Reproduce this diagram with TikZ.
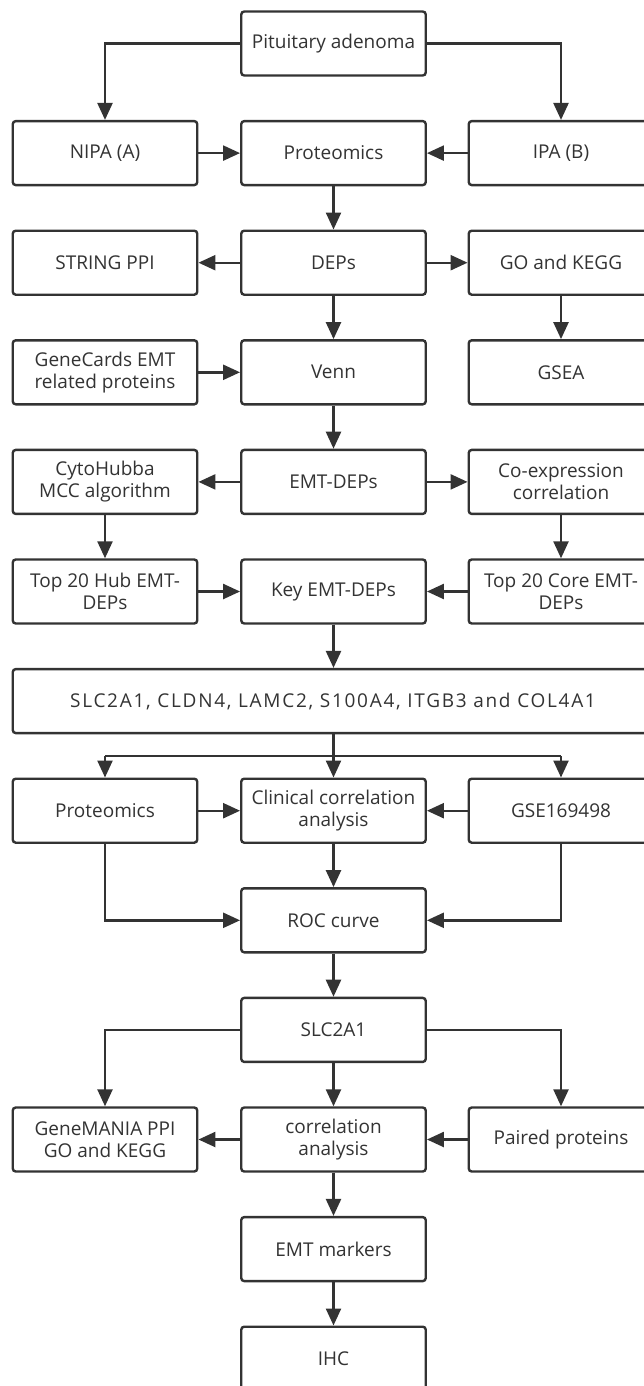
\documentclass[tikz,border=0pt]{standalone}
\usepackage{fontspec}
\setmainfont{Open Sans}
\usetikzlibrary{arrows.meta}
\definecolor{ink}{HTML}{333333}
\tikzset{
  box/.style={draw=ink, line width=2.4pt, rounded corners=3pt, minimum width=184.5pt,
    minimum height=64pt, align=center, text=ink, inner sep=2pt,
    font=\fontsize{19}{22}\selectfont},
  widebox/.style={box, minimum width=640.5pt, font=\fontsize{19}{22}\selectfont\addfontfeature{LetterSpace=9}},
  arr/.style={draw=ink, line width=2.4pt, -{Triangle[length=17pt,width=15pt]}},
  ln/.style={draw=ink, line width=2.4pt},
}
\begin{document}
\begin{tikzpicture}[x=1pt,y=-1pt]
\fill[white] (0,0) rectangle (644,1386);
\useasboundingbox (0,0) rectangle (644,1386);
% rows
\node[box] (pit)   at (333.5,43.5)  {Pituitary adenoma};
\node[box] (nipa)  at (105,153.1)   {NIPA (A)};
\node[box] (prot)  at (333.5,153.1) {Proteomics};
\node[box] (ipa)   at (561,153.1)   {IPA (B)};
\node[box] (str)   at (105,262.7)   {STRING PPI};
\node[box] (deps)  at (333.5,262.7) {DEPs};
\node[box] (go)    at (561,262.7)   {GO and KEGG};
\node[box] (gc)    at (105,372.3)   {GeneCards EMT\\related proteins};
\node[box] (venn)  at (333.5,372.3) {Venn};
\node[box] (gsea)  at (561,372.3)   {GSEA};
\node[box] (cyto)  at (105,481.9)   {CytoHubba\\MCC algorithm};
\node[box] (emt)   at (333.5,481.9) {EMT-DEPs};
\node[box] (coex)  at (561,481.9)   {Co-expression\\correlation};
\node[box] (hub)   at (105,591.5)   {Top 20 Hub EMT-\\DEPs};
\node[box] (key)   at (333.5,591.5) {Key EMT-DEPs};
\node[box] (core)  at (561,591.5)   {Top 20 Core EMT-\\DEPs};
\node[widebox] (wide) at (333,701.1) {SLC2A1, CLDN4, LAMC2, S100A4, ITGB3 and COL4A1};
\node[box] (prot2) at (105,810.7)   {Proteomics};
\node[box] (clin)  at (333.5,810.7) {Clinical correlation\\analysis};
\node[box] (gse)   at (561,810.7)   {GSE169498};
\node[box] (roc)   at (333.5,920.3) {ROC curve};
\node[box] (slc)   at (333.5,1029.9) {SLC2A1};
\node[box] (gm)    at (105,1139.5)  {GeneMANIA PPI\\GO and KEGG};
\node[box] (corr)  at (333.5,1139.5) {correlation\\analysis};
\node[box] (pair)  at (561,1139.5)  {Paired proteins};
\node[box] (mark)  at (333.5,1249.1) {EMT markers};
\node[box] (ihc)   at (333.5,1358.7) {IHC};
% connectors
\draw[arr] (pit.west) -| (nipa.north);
\draw[arr] (pit.east) -| (ipa.north);
\draw[arr] (nipa) -- (prot);
\draw[arr] (ipa) -- (prot);
\draw[arr] (prot) -- (deps);
\draw[arr] (deps) -- (str);
\draw[arr] (deps) -- (go);
\draw[arr] (go) -- (gsea);
\draw[arr] (deps) -- (venn);
\draw[arr] (gc) -- (venn);
\draw[arr] (venn) -- (emt);
\draw[arr] (emt) -- (cyto);
\draw[arr] (emt) -- (coex);
\draw[arr] (cyto) -- (hub);
\draw[arr] (coex) -- (core);
\draw[arr] (hub) -- (key);
\draw[arr] (core) -- (key);
\draw[arr] (key.south) -- (key.south |- wide.north);
\coordinate (br) at (333.5,756);
\draw[ln] (br -| prot2.north) -- (br -| gse.north);
\draw[arr] (br -| prot2.north) -- (prot2.north);
\draw[arr] (br -| gse.north) -- (gse.north);
\draw[arr] (wide.south -| clin.north) -- (clin.north);
\draw[arr] (prot2) -- (clin);
\draw[arr] (gse) -- (clin);
\draw[arr] (clin) -- (roc);
\draw[arr] (prot2.south) |- (roc.west);
\draw[arr] (gse.south) |- (roc.east);
\draw[arr] (roc) -- (slc);
\draw[arr] (slc.west) -| (gm.north);
\draw[arr] (slc.east) -| (pair.north);
\draw[arr] (slc) -- (corr);
\draw[arr] (corr) -- (gm);
\draw[arr] (pair) -- (corr);
\draw[arr] (corr) -- (mark);
\draw[arr] (mark) -- (ihc);
\end{tikzpicture}
\end{document}
